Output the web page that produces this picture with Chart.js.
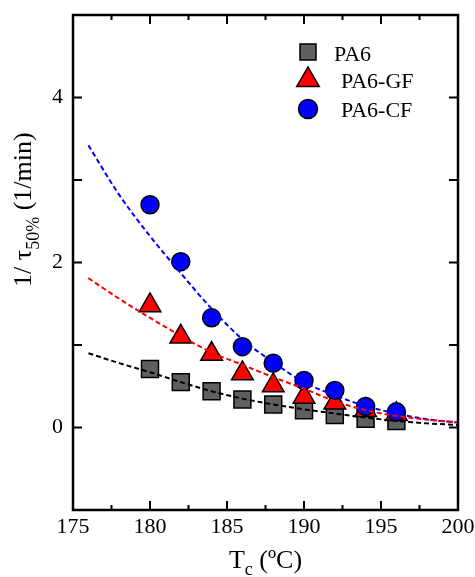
<!DOCTYPE html>
<html>
<head>
<meta charset="utf-8">
<script src="https://cdn.jsdelivr.net/npm/chart.js@4/dist/chart.umd.min.js"></script>
<style>
html,body{margin:0;padding:0;background:#fff;}
#c{display:block;}
</style>
</head>
<body>
<canvas id="c" width="475" height="577"></canvas>
<script>
// ---- data ----
const temps = [180, 182, 184, 186, 188, 190, 192, 194, 196];
const pa6   = [0.71, 0.55, 0.44, 0.34, 0.28, 0.21, 0.15, 0.105, 0.08];
const pa6gf = [1.48, 1.10, 0.89, 0.655, 0.51, 0.37, 0.30, 0.21, 0.16];
const pa6cf = [2.70, 2.01, 1.33, 0.98, 0.78, 0.57, 0.45, 0.255, 0.19];

const fitTemps = [176, 178, 180, 182, 184, 186, 188, 190, 192, 194, 196, 198, 200];
const fitPA6   = [0.90, 0.78, 0.67, 0.55, 0.44, 0.35, 0.28, 0.22, 0.17, 0.12, 0.08, 0.05, 0.03];
const fitGF    = [1.81, 1.56, 1.33, 1.11, 0.91, 0.76, 0.61, 0.47, 0.32, 0.21, 0.14, 0.095, 0.065];
const fitCF    = [3.42, 2.82, 2.32, 1.87, 1.44, 1.07, 0.79, 0.55, 0.39, 0.26, 0.17, 0.10, 0.06];

const xTickLabels = [175, 180, 185, 190, 195, 200];
const yTickLabels = [0, 2, 4];
const seriesNames = ['PA6', 'PA6-GF', 'PA6-CF'];

const SERIF = "'Liberation Serif', 'Times New Roman', serif";

function pts(xs, ys) { return xs.map((x, i) => ({x: x, y: ys[i]})); }

function fitSet(ys, color) {
  return {
    type: 'line', data: pts(fitTemps, ys), showLine: true,
    borderColor: color, borderWidth: 2, borderDash: [5, 3],
    pointRadius: 0, cubicInterpolationMode: 'monotone', fill: false, order: 0
  };
}

const markerStyles = [
  {pointStyle: 'rect', radius: 12, bg: '#5f5f5f', order: 3},
  {pointStyle: 'triangle', radius: 12.5, bg: '#ff0000', order: 2},
  {pointStyle: 'circle', radius: 9, bg: '#0000ff', order: 1}
];
const seriesValues = [pa6, pa6gf, pa6cf];

const markerSets = seriesValues.map((vals, i) => ({
  label: seriesNames[i],
  data: pts(temps, vals),
  showLine: false,
  pointStyle: markerStyles[i].pointStyle,
  pointRadius: markerStyles[i].radius,
  pointBackgroundColor: markerStyles[i].bg,
  pointBorderColor: '#000',
  pointBorderWidth: 1.5,
  order: markerStyles[i].order
}));

// frame, inward ticks, titles, legend
const decor = {
  id: 'decor',
  afterDraw(chart) {
    const ctx = chart.ctx, a = chart.chartArea;
    const xs = chart.scales.x, ys = chart.scales.y;
    ctx.save();
    ctx.strokeStyle = '#000';
    // ticks
    ctx.lineWidth = 2;
    ctx.beginPath();
    xs.ticks.forEach(t => {
      const px = xs.getPixelForValue(t.value);
      const len = xTickLabels.includes(t.value) ? 9 : 5;
      ctx.moveTo(px, a.bottom); ctx.lineTo(px, a.bottom - len);
      ctx.moveTo(px, a.top); ctx.lineTo(px, a.top + len);
    });
    ys.ticks.forEach(t => {
      const py = ys.getPixelForValue(t.value);
      ctx.moveTo(a.left, py); ctx.lineTo(a.left + 9, py);
      ctx.moveTo(a.right, py); ctx.lineTo(a.right - 9, py);
    });
    ctx.stroke();
    // frame
    ctx.lineWidth = 2.5;
    ctx.strokeRect(a.left, a.top, a.right - a.left, a.bottom - a.top);

    // x title: T_c (ºC)
    ctx.fillStyle = '#000';
    ctx.textBaseline = 'alphabetic';
    ctx.textAlign = 'left';
    const big = '26px ' + SERIF, small = '18px ' + SERIF;
    ctx.font = big; const wT = ctx.measureText('T').width;
    ctx.font = small; const wc = ctx.measureText('c').width;
    ctx.font = big; const wRest = ctx.measureText(' (\u00BAC)').width;
    const totalX = wT + wc + wRest;
    let x0 = (a.left + a.right) / 2 - totalX / 2;
    const by = 568;
    ctx.font = big; ctx.fillText('T', x0, by);
    ctx.font = small; ctx.fillText('c', x0 + wT, by + 7);
    ctx.font = big; ctx.fillText(' (\u00BAC)', x0 + wT + wc, by);

    // y title: 1/ τ_50% (1/min)
    ctx.save();
    ctx.translate(31, 287);
    ctx.rotate(-Math.PI / 2);
    let cx = 0;
    ctx.font = big; ctx.fillText('1/ \u03C4', cx, 0); cx += ctx.measureText('1/ \u03C4').width;
    ctx.font = small; ctx.fillText('50%', cx, 8); cx += ctx.measureText('50%').width;
    ctx.font = big; ctx.fillText(' (1/min)', cx, 0);
    ctx.restore();

    // legend
    const legY = [52, 80, 109];
    const legTextX = [334, 341, 341];
    const legBase = [61, 88, 117];
    const mx = 308;
    ctx.lineWidth = 1.5;
    ctx.font = '22px ' + SERIF;
    markerStyles.forEach((m, i) => {
      ctx.fillStyle = m.bg; ctx.strokeStyle = '#000';
      ctx.beginPath();
      const y = legY[i];
      if (m.pointStyle === 'rect') {
        ctx.rect(mx - 8, y - 8, 16, 16);
      } else if (m.pointStyle === 'triangle') {
        const r = 13;
        ctx.moveTo(mx, y - r);
        ctx.lineTo(mx + 0.866 * r, y + 0.5 * r);
        ctx.lineTo(mx - 0.866 * r, y + 0.5 * r);
        ctx.closePath();
      } else {
        ctx.arc(mx, y, 9.5, 0, Math.PI * 2);
      }
      ctx.fill(); ctx.stroke();
      ctx.fillStyle = '#000';
      ctx.fillText(seriesNames[i], legTextX[i], legBase[i]);
    });
    ctx.restore();
  }
};

new Chart(document.getElementById('c'), {
  type: 'scatter',
  data: {
    datasets: [fitSet(fitPA6, '#000000'), fitSet(fitGF, '#ff0000'), fitSet(fitCF, '#0000ff')].concat(markerSets)
  },
  options: {
    responsive: false,
    devicePixelRatio: 1,
    animation: false,
    layout: {padding: {top: 15, right: 17, left: 0, bottom: 0}},
    plugins: {legend: {display: false}, tooltip: {enabled: false}},
    scales: {
      x: {
        type: 'linear', position: 'bottom', min: 175, max: 200,
        grid: {display: false, drawTicks: false},
        border: {display: false},
        ticks: {
          stepSize: 2.5, autoSkip: false, maxRotation: 0, padding: 4,
          color: '#000', font: {family: SERIF, size: 22},
          callback: v => xTickLabels.includes(v) ? String(v) : ''
        },
        afterFit: s => { s.height = 67; s.paddingLeft = 0; s.paddingRight = 0; }
      },
      y: {
        type: 'linear', position: 'left', min: -1, max: 5,
        grid: {display: false, drawTicks: false},
        border: {display: false},
        ticks: {
          stepSize: 1, autoSkip: false, padding: 10,
          color: '#000', font: {family: SERIF, size: 22},
          callback: v => yTickLabels.includes(v) ? String(v) : ''
        },
        afterFit: s => { s.width = 73; s.paddingTop = 0; s.paddingBottom = 0; }
      }
    }
  },
  plugins: [decor]
});
</script>
</body>
</html>
